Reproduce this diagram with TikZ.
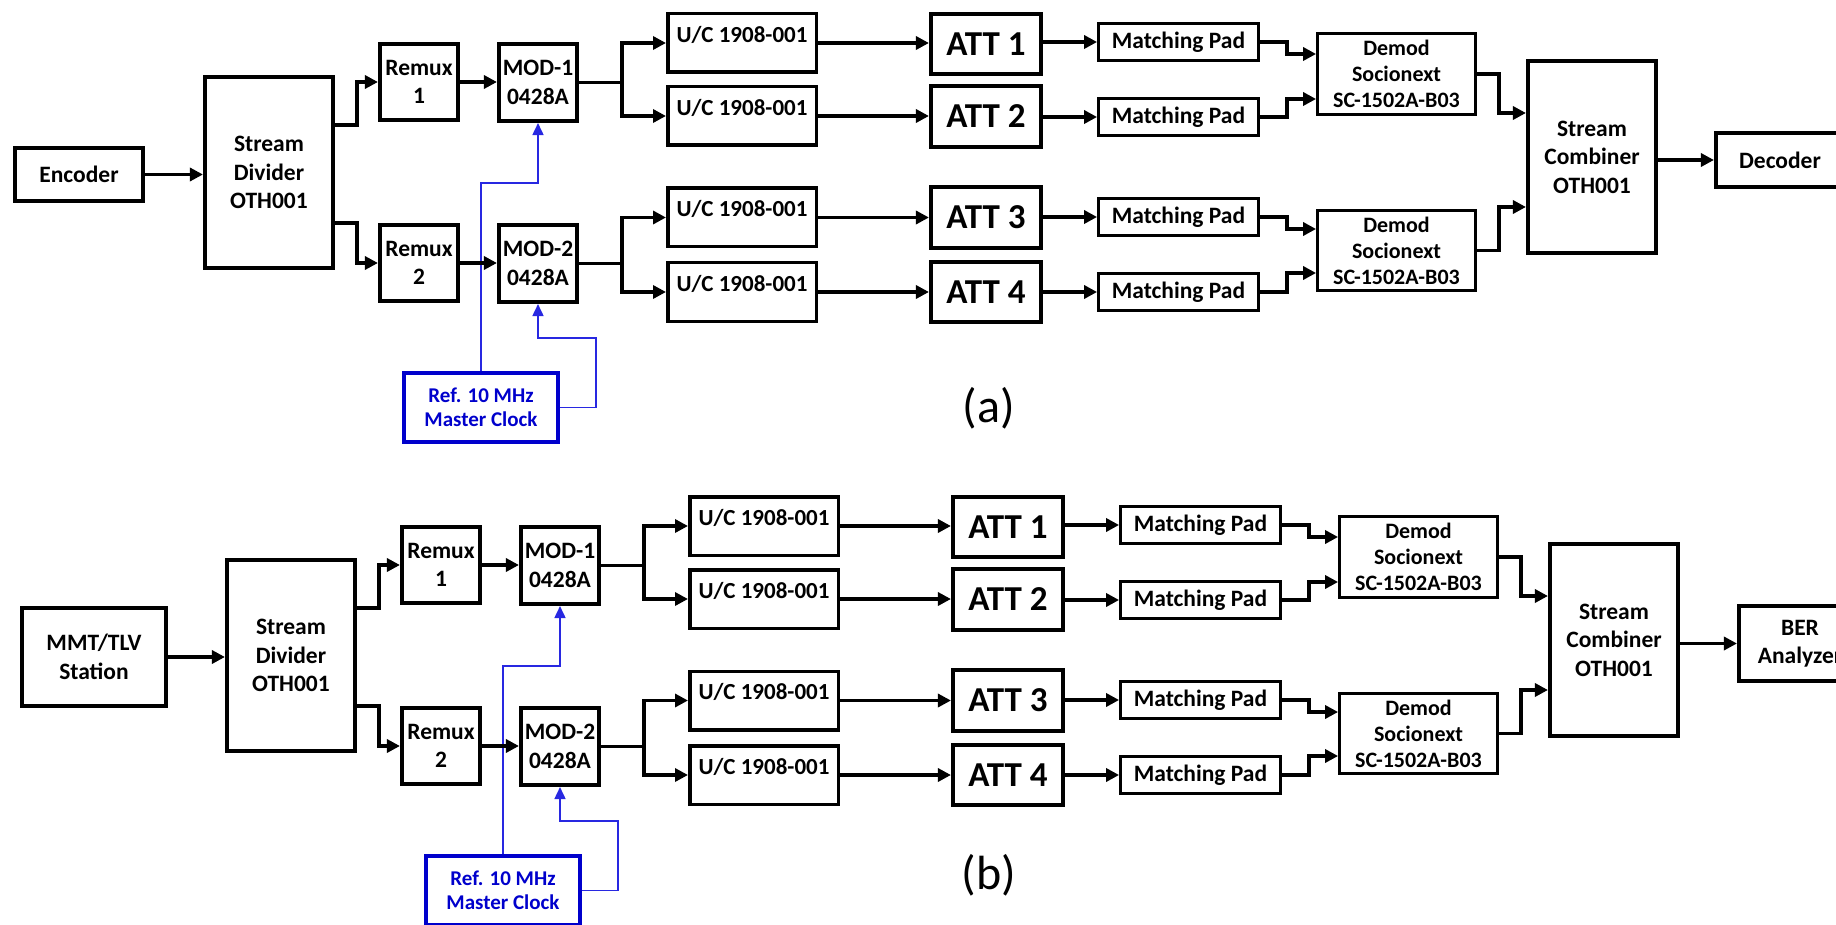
\documentclass[tikz,border=0pt]{standalone}
\usepackage{fontspec}
\setmainfont{Carlito}
\usetikzlibrary{arrows.meta}
\definecolor{clkblue}{RGB}{0,0,204}
\definecolor{clkline}{RGB}{40,40,225}
\newcommand\fs[2]{\fontsize{#1}{#2}\selectfont}
\tikzset{
  box/.style={draw, line width=3.6pt, inner sep=0pt, align=center, font=\bfseries\fs{23.5}{28.5}},
  ucbox/.style={draw, line width=3.5pt, inner sep=0pt, font=\bfseries\fs{23}{28}, minimum width=148.5pt, text height=28.7pt, text depth=29.8pt},
  attbox/.style={draw, line width=3.6pt, inner sep=0pt, font=\bfseries\fs{35}{40}, minimum width=110.5pt, minimum height=60.5pt},
  mpbox/.style={draw, line width=3.3pt, inner sep=0pt, font=\bfseries\fs{23.5}{28}, minimum width=159.5pt, minimum height=36.5pt},
  dmbox/.style={draw, line width=3.3pt, inner sep=0pt, align=center, font=\bfseries\fs{22}{26}, minimum width=157.5pt, minimum height=80.5pt},
  clkbox/.style={draw=clkblue, text=clkblue, line width=4pt, inner sep=0pt, align=center, font=\bfseries\fs{21}{24}, minimum width=154pt, minimum height=69pt},
  arr/.style={line width=3.7pt, -{Triangle[length=13pt,width=13pt]}},
  wire/.style={line width=3.7pt},
  barr/.style={draw=clkline, line width=1.7pt, -{Triangle[length=12pt,width=11pt]}},
  sublabel/.style={font=\fs{48}{54}}
}
\newcommand\core[1]{%
  \node[box, minimum width=128.5pt, minimum height=191.5pt] (#1div) at (269,172.5) {Stream\\Divider\\OTH001};
  \node[box, minimum width=78.5pt, minimum height=76.5pt] (#1rmx1) at (419,82) {Remux\\1};
  \node[box, minimum width=78.5pt, minimum height=76.5pt] (#1rmx2) at (419,263) {Remux\\2};
  \node[box, minimum width=78.5pt, minimum height=77.5pt] (#1mod1) at (538,82.5) {MOD-1\\0428A};
  \node[box, minimum width=78.5pt, minimum height=77.5pt] (#1mod2) at (538,263.5) {MOD-2\\0428A};
  \node[ucbox] (#1uc1) at (742,43) {U/C 1908-001};
  \node[ucbox] (#1uc2) at (742,116) {U/C 1908-001};
  \node[ucbox] (#1uc3) at (742,217.5) {U/C 1908-001};
  \node[ucbox] (#1uc4) at (742,292) {U/C 1908-001};
  \node[attbox] (#1att1) at (986,44) {ATT 1};
  \node[attbox] (#1att2) at (986,116.5) {ATT 2};
  \node[attbox] (#1att3) at (986,217.5) {ATT 3};
  \node[attbox] (#1att4) at (986,292) {ATT 4};
  \node[mpbox] (#1mp1) at (1178.5,42) {Matching Pad};
  \node[mpbox] (#1mp2) at (1178.5,117) {Matching Pad};
  \node[mpbox] (#1mp3) at (1178.5,217) {Matching Pad};
  \node[mpbox] (#1mp4) at (1178.5,292) {Matching Pad};
  \node[dmbox] (#1dm1) at (1396.5,74) {Demod\\Socionext\\SC-1502A-B03};
  \node[dmbox] (#1dm2) at (1396.5,250.5) {Demod\\Socionext\\SC-1502A-B03};
  \node[box, minimum width=128.5pt, minimum height=192.5pt] (#1comb) at (1592,157) {Stream\\Combiner\\OTH001};
  \node[clkbox] (#1clk) at (481,407.5) {Ref. 10 MHz\\Master Clock};
  % clock lines
  \draw[barr] (#1clk.north) -- (#1clk.north |- 0,183) -| (#1mod1.south);
  \draw[barr] (#1clk.east) -| (596,338) -| (#1mod2.south);
  % divider to remux
  \draw[arr] (#1div.east |- 0,125) -- (357,125) |- (#1rmx1.west);
  \draw[arr] (#1div.east |- 0,223) -- (357,223) |- (#1rmx2.west);
  \draw[arr] (#1rmx1.east) -- (#1mod1.west |- #1rmx1.east);
  \draw[arr] (#1rmx2.east) -- (#1mod2.west |- #1rmx2.east);
  % forks
  \coordinate (#1f1) at (622,82.5);
  \coordinate (#1f2) at (622,263.5);
  \draw[wire] (#1mod1.east) -- (#1f1);
  \draw[arr] (#1f1) |- (#1uc1.west);
  \draw[arr] (#1f1) |- (#1uc2.west);
  \draw[wire] (#1mod2.east) -- (#1f2);
  \draw[arr] (#1f2) |- (#1uc3.west);
  \draw[arr] (#1f2) |- (#1uc4.west);
  % uc to att
  \draw[arr] (#1uc1.east) -- (#1att1.west |- #1uc1.east);
  \draw[arr] (#1uc2.east) -- (#1att2.west |- #1uc2.east);
  \draw[arr] (#1uc3.east) -- (#1att3.west |- #1uc3.east);
  \draw[arr] (#1uc4.east) -- (#1att4.west |- #1uc4.east);
  % att to mp
  \draw[arr] (#1att1.east |- #1mp1.west) -- (#1mp1.west);
  \draw[arr] (#1att2.east |- #1mp2.west) -- (#1mp2.west);
  \draw[arr] (#1att3.east |- #1mp3.west) -- (#1mp3.west);
  \draw[arr] (#1att4.east |- #1mp4.west) -- (#1mp4.west);
  % mp to demod
  \draw[arr] (#1mp1.east) -| (1287,54) -- (#1dm1.west |- 0,54);
  \draw[arr] (#1mp2.east) -| (1287,99) -- (#1dm1.west |- 0,99);
  \draw[arr] (#1mp3.east) -| (1287,229) -- (#1dm2.west |- 0,229);
  \draw[arr] (#1mp4.east) -| (1287,273) -- (#1dm2.west |- 0,273);
  % demod to combiner
  \draw[arr] (#1dm1.east) -| (1499,113) -- (#1comb.west |- 0,113);
  \draw[arr] (#1dm2.east) -| (1499,207) -- (#1comb.west |- 0,207);
}
\begin{document}
\begin{tikzpicture}[x=1pt,y=-1pt]
\useasboundingbox (0,0) rectangle (1836,925);
\fill[white] (0,0) rectangle (1836,925);
% ---- (a) ----
\begin{scope}
  \core{a}
  \node[box, minimum width=128.5pt, minimum height=53.5pt] (ain) at (79,174.5) {Encoder};
  \node[box, minimum width=128.5pt, minimum height=54.5pt] (aout) at (1780,160) {Decoder};
  \draw[arr] (ain.east) -- (adiv.west |- ain.east);
  \draw[arr] (acomb.east |- aout.west) -- (aout.west);
\end{scope}
% ---- (b) ----
\begin{scope}[shift={(22,483)}]
  \core{b}
  \node[box, minimum width=144.5pt, minimum height=98.5pt] (bin) at (72,174) {MMT/TLV\\Station};
  \node[box, minimum width=122.5pt, minimum height=75.5pt] (bout) at (1778,160.5) {BER\\Analyzer};
  \draw[arr] (bin.east) -- (bdiv.west |- bin.east);
  \draw[arr] (bcomb.east |- bout.west) -- (bout.west);
\end{scope}
\node[sublabel] (lbla) at (989,408) {(a)};
\node[sublabel] (lblb) at (989,875) {(b)};
\end{tikzpicture}
\end{document}
